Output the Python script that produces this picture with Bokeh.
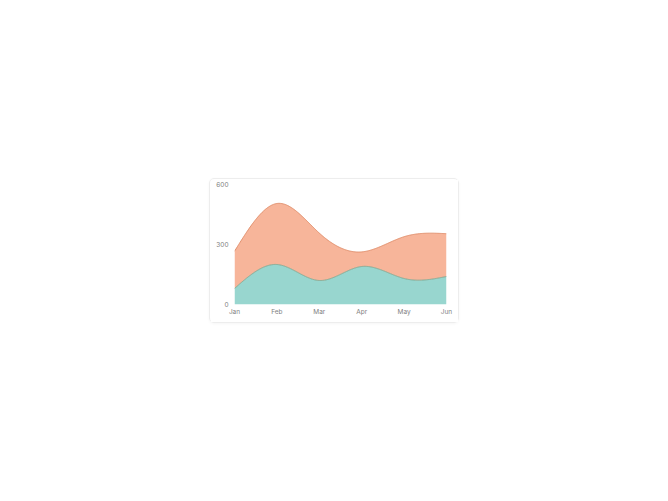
import numpy as np
from bokeh.plotting import figure
from bokeh.models import Range1d, FixedTicker
from bokeh.embed import file_html
from bokeh.resources import INLINE

months = ["Jan", "Feb", "Mar", "Apr", "May", "Jun"]
mobile = [80, 200, 120, 190, 130, 140]
desktop = [186, 305, 237, 73, 209, 214]
y_ticks = [0, 300, 600]

TEAL_FILL = "#98d6cf"
TEAL_LINE = "#7fa892"
ORANGE_FILL = "#f7b59a"
ORANGE_LINE = "#e08f6c"


def natural_spline(ys, n=300):
    """Natural cubic spline through evenly spaced knots (drawing only)."""
    y = np.asarray(ys, dtype=float)
    k = len(y)
    A = np.zeros((k, k))
    r = np.zeros(k)
    A[0, 0] = 1
    A[-1, -1] = 1
    for i in range(1, k - 1):
        A[i, i - 1] = 1
        A[i, i] = 4
        A[i, i + 1] = 1
        r[i] = 6 * (y[i + 1] - 2 * y[i] + y[i - 1])
    M = np.linalg.solve(A, r)
    xs = np.linspace(0, k - 1, n)
    out = np.empty(n)
    for j, x in enumerate(xs):
        i = min(int(np.floor(x)), k - 2)
        t = x - i
        a = 1 - t
        out[j] = (a * y[i] + t * y[i + 1]
                  + ((a ** 3 - a) * M[i] + (t ** 3 - t) * M[i + 1]) / 6.0)
    return xs, out


xi = np.arange(len(months))
total = [m + d for m, d in zip(mobile, desktop)]
xs, low = natural_spline(mobile)
_, high = natural_spline(total)

p = figure(width=250, height=145,
           x_range=Range1d(0, len(months) - 1), y_range=Range1d(0, 600),
           output_backend="svg", toolbar_location=None,
           min_border_left=24, min_border_right=14,
           min_border_top=5, min_border_bottom=20)
p.margin = (178, 0, 0, 209)
p.styles = {"border": "1px solid #ededed", "border-radius": "5px",
            "box-shadow": "0 1px 3px rgba(0,0,0,0.04)"}
p.outline_line_color = None
p.background_fill_color = "white"
p.border_fill_color = "white"
p.xgrid.visible = False
p.ygrid.visible = False

p.varea(x=xs, y1=np.zeros_like(xs), y2=low, fill_color=TEAL_FILL)
p.varea(x=xs, y1=low, y2=high, fill_color=ORANGE_FILL)
p.line(xs, high, line_color=ORANGE_LINE, line_width=1)
p.line(xs, low, line_color=TEAL_LINE, line_width=1)

for ax in (p.xaxis[0], p.yaxis[0]):
    ax.axis_line_color = None
    ax.major_tick_line_color = None
    ax.minor_tick_line_color = None
    ax.major_tick_out = 0
    ax.major_tick_in = 0
    ax.major_label_text_font = "Inter"
    ax.major_label_text_font_size = "6.5px"
    ax.major_label_text_color = "#808080"

p.yaxis[0].ticker = FixedTicker(ticks=y_ticks)
p.yaxis[0].major_label_standoff = 6
p.xaxis[0].ticker = FixedTicker(ticks=list(xi))
p.xaxis[0].major_label_overrides = {int(i): m for i, m in zip(xi, months)}
p.xaxis[0].major_label_standoff = 3

open("out.html", "w").write(file_html(p, INLINE))
